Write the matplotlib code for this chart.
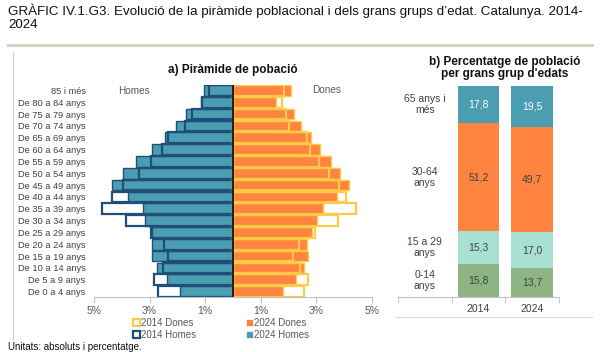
import numpy as np
import matplotlib
matplotlib.use("Agg")
import matplotlib.pyplot as plt
from matplotlib.patches import Patch
from matplotlib.lines import Line2D

plt.rcParams['font.family'] = ['Liberation Sans', 'DejaVu Sans']

# --- dades ---
ages = ["De 0 a 4 anys", "De 5 a 9 anys", "De 10 a 14 anys", "De 15 a 19 anys",
        "De 20 a 24 anys", "De 25 a 29 anys", "De 30 a 34 anys", "De 35 a 39 anys",
        "De 40 a 44 anys", "De 45 a 49 anys", "De 50 a 54 anys", "De 55 a 59 anys",
        "De 60 a 64 anys", "De 65 a 69 anys", "De 70 a 74 anys", "De 75 a 79 anys",
        "De 80 a 84 anys", "85 i més"]
homes_2014 = [2.71, 2.84, 2.52, 2.34, 2.48, 2.94, 3.86, 4.71, 4.35, 3.94, 3.38, 2.94,
              2.55, 2.34, 1.71, 1.49, 1.13, 0.88]
homes_2024 = [1.92, 2.37, 2.73, 2.93, 2.90, 2.92, 3.17, 3.24, 3.78, 4.35, 3.94, 3.50,
              2.91, 2.46, 2.04, 1.70, 1.16, 1.06]
dones_2014 = [2.54, 2.70, 2.40, 2.16, 2.39, 2.96, 3.78, 4.41, 4.05, 3.81, 3.45, 3.09,
              2.77, 2.67, 2.00, 1.92, 1.75, 1.85]
dones_2024 = [1.81, 2.28, 2.54, 2.70, 2.67, 2.83, 3.03, 3.23, 3.73, 4.18, 3.86, 3.53,
              3.14, 2.81, 2.45, 2.21, 1.53, 2.09]
xticks = [-5, -3, -1, 1, 3, 5]
xtick_labels = ["5%", "3%", "1%", "1%", "3%", "5%"]

years = ["2014", "2024"]
groups = ["0-14\nanys", "15 a 29\nanys", "30-64\nanys", "65 anys i\nmés"]
grup_2014 = [15.8, 15.3, 51.2, 17.8]
grup_2024 = [13.7, 17.0, 49.7, 19.5]

teal = "#4B9DB1"
navy = "#1F4E79"
orange = "#FF843F"
gold = "#FFC94A"
green = "#8DB583"
mint = "#A8E1D4"
grey_txt = "#404040"

fig = plt.figure(figsize=(6.05, 3.52), dpi=100)
W, H = 605, 352

def px(l, t, r, b):
    return [l / W, 1 - b / H, (r - l) / W, (b - t) / H]

# titol
fig.text(8 / W, 1 - 4 / H,
         "GRÀFIC IV.1.G3. Evolució de la piràmide poblacional i dels grans grups d’edat. Catalunya. 2014-\n2024",
         ha="left", va="top", fontsize=9.6, color="#111111", linespacing=1.05)
fig.add_artist(Line2D([8 / W, 592 / W], [1 - 45 / H, 1 - 45 / H], color="#CFCFC0", lw=2))
fig.add_artist(Line2D([13 / W, 13 / W], [1 - 52 / H, 1 - 340 / H], color="#D0D0D0", lw=0.8))
fig.add_artist(Line2D([395 / W, 592 / W], [1 - 317 / H, 1 - 317 / H], color="#D9D9D9", lw=0.8))
fig.text(8 / W, 1 - 347 / H, "Unitats: absoluts i percentatge.", ha="left", va="center",
         fontsize=7, color="#111111")

# --- a) piramide ---
ax = fig.add_axes(px(94, 84.8, 372, 297.3))
y = np.arange(len(ages))
h = 0.9
ax.barh(y, -np.array(homes_2024), height=h, color=teal, edgecolor=navy, lw=1.0)
ax.barh(y, -np.array(homes_2014), height=h, fill=False, edgecolor=navy, lw=1.6)
ax.barh(y, dones_2024, height=h, color=orange, edgecolor=gold, lw=1.0)
ax.barh(y, dones_2014, height=h, fill=False, edgecolor=gold, lw=1.6)
ax.axvline(0, color="black", lw=1.2)
ax.set_xlim(-5, 5)
ax.set_ylim(-0.48, len(ages) - 0.52)
ax.set_xticks(xticks)
ax.set_xticklabels(xtick_labels, fontsize=7.5, color="#595959")
ax.set_yticks(y)
ax.set_yticklabels(ages, fontsize=6.7, color=grey_txt)
ax.tick_params(axis="y", length=0, pad=6)
ax.tick_params(axis="x", length=4, color="#BFBFBF", pad=2)
for s in ["top", "right", "left"]:
    ax.spines[s].set_visible(False)
ax.spines["bottom"].set_color("#BFBFBF")
ax.text(-3.55, 16.95, "Homes", ha="center", va="center", fontsize=7.2, color="#595959")
ax.text(3.35, 17.05, "Dones", ha="center", va="center", fontsize=7.2, color="#595959")
fig.text(233 / W, 1 - 70 / H, "a) Piràmide de pobació", ha="center", va="center",
         fontsize=8.5, fontweight="bold", color="#111111")

handles = [Patch(facecolor="white", edgecolor=gold, lw=1.6),
           Patch(facecolor="white", edgecolor=navy, lw=1.6),
           Patch(facecolor=orange, edgecolor="white", lw=0.5),
           Patch(facecolor=teal, edgecolor="white", lw=0.5)]
labels = ["2014 Dones", "2014 Homes", "2024 Dones", "2024 Homes"]
fig.legend(handles, labels, ncol=2, loc="center", bbox_to_anchor=(221 / W, 1 - 329 / H),
           frameon=False, fontsize=7, handlelength=0.7, handleheight=0.7,
           handletextpad=0.15, columnspacing=5.1, labelspacing=0.2, labelcolor="#595959")

# --- b) grans grups ---
ax2 = fig.add_axes(px(398, 85.7, 559, 297.3))
colors = [green, mint, orange, teal]
txt_colors = [grey_txt, grey_txt, grey_txt, "white"]
b14 = 0.0
b24 = 0.0
for i in range(len(groups)):
    ax2.bar(1, grup_2014[i], bottom=b14, width=0.78, color=colors[i])
    ax2.bar(2, grup_2024[i], bottom=b24, width=0.78, color=colors[i])
    ax2.text(1, b14 + grup_2014[i] / 2, f"{grup_2014[i]:.1f}".replace(".", ","),
             ha="center", va="center", fontsize=7.5, color=txt_colors[i])
    ax2.text(2, b24 + grup_2024[i] / 2, f"{grup_2024[i]:.1f}".replace(".", ","),
             ha="center", va="center", fontsize=7.5, color=txt_colors[i])
    ax2.text(0, b14 + grup_2014[i] / 2, groups[i], ha="center", va="center",
             fontsize=7.5, color=grey_txt, linespacing=1.1)
    b14 += grup_2014[i]
    b24 += grup_2024[i]
ax2.set_xlim(-0.5, 2.5)
ax2.set_ylim(0, 100)
ax2.set_xticks([1, 2])
ax2.set_xticklabels(years, fontsize=7.5, color=grey_txt)
ax2.set_xticks([-0.5, 0.5, 1.5, 2.5], minor=True)
ax2.tick_params(axis="x", which="major", length=0, pad=5)
ax2.tick_params(axis="x", which="minor", length=4, color="#BFBFBF")
ax2.set_yticks([])
for s in ["top", "right", "left"]:
    ax2.spines[s].set_visible(False)
ax2.spines["bottom"].set_color("#BFBFBF")
fig.text(505 / W, 1 - 68 / H, "b) Percentatge de població\nper grans grup d'edats",
         ha="center", va="center", fontsize=8.5, fontweight="bold", color="#111111",
         linespacing=1.05)

fig.savefig("out.png", dpi=100)
